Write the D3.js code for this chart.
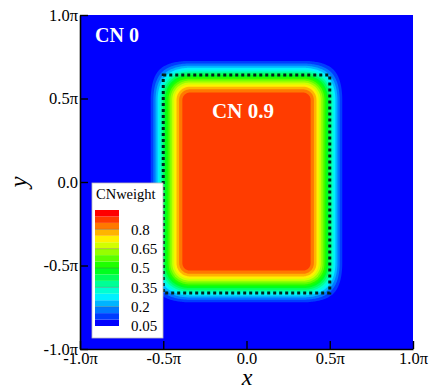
<!DOCTYPE html>
<html>
<head>
<meta charset="utf-8">
<script src="https://cdn.jsdelivr.net/npm/d3@7"></script>
<style>
  html, body { margin: 0; padding: 0; background: #fff; }
  svg { display: block; }
  text { font-family: "Liberation Serif", "Times New Roman", serif; }
</style>
</head>
<body>
<svg id="chart" width="438" height="391"></svg>
<script>
// Axis ticks (in units of pi) and their labels
const xTicks = [-1, -0.5, 0, 0.5, 1];
const yTicks = [-1, -0.5, 0, 0.5, 1];
const xTickLabels = ["-1.0\u03c0", "-0.5\u03c0", "0.0", "0.5\u03c0", "1.0\u03c0"];
const yTickLabels = ["-1.0\u03c0", "-0.5\u03c0", "0.0", "0.5\u03c0", "1.0\u03c0"];

// Contour levels of the CN weight field and the labelled legend levels
const levels = [0.05, 0.10, 0.15, 0.20, 0.25, 0.30, 0.35, 0.40, 0.45,
                0.50, 0.55, 0.60, 0.65, 0.70, 0.75, 0.80, 0.85, 0.90, 0.95];
const legendLabels = [0.05, 0.2, 0.35, 0.5, 0.65, 0.8];

// CN weight outside and inside the refined block
const cnOuter = [0];
const cnInner = [0.9];

// Block where the weight ramps up (pi units), and the ramp half-width
const coreX = [-0.49, 0.49];
const coreY = [-0.635, 0.64];
const rampHalf = [0.15];

// Dotted block outline (pi units)
const boxX = [-0.5, 0.5];
const boxY = [-0.665, 0.64];

const svg = d3.select("#chart");
const x = d3.scaleLinear().domain([-1, 1]).range([80, 413]);
const y = d3.scaleLinear().domain([-1, 1]).range([349, 15]);

// Rainbow colour for each band between consecutive levels
const nBands = levels.length - 1;
const rainbow = d3.scaleLinear()
  .domain([0, 0.25, 0.5, 0.75, 1])
  .range(["#0000ff", "#00ffff", "#00ff00", "#ffff00", "#ff0000"])
  .interpolate(d3.interpolateRgb);
const bandColor = i => rainbow(i / (nBands - 1));

// Sample the weight field on a regular grid
const nx = 300, ny = 300;
function ramp(d) {
  const h = rampHalf[0];
  if (d <= -h) return 0;
  if (d >= h) return 1;
  return 0.5 * (1 + Math.sin(Math.PI / 2 * d / h));
}
const values = new Float64Array(nx * ny);
for (let j = 0; j < ny; j++) {
  const yy = 1 - (j + 0.5) * 2 / ny;
  const gy = ramp(Math.min(yy - coreY[0], coreY[1] - yy));
  for (let i = 0; i < nx; i++) {
    const xx = -1 + (i + 0.5) * 2 / nx;
    const gx = ramp(Math.min(xx - coreX[0], coreX[1] - xx));
    values[j * nx + i] = cnOuter[0] + (cnInner[0] - cnOuter[0]) * gx * gy;
  }
}

// Band i covers (levels[i], levels[i+1]]
const thresholds = levels.slice(0, nBands).map(l => l + 1e-6);
const contours = d3.contours().size([nx, ny]).thresholds(thresholds)(values);

const gridToPixel = d3.geoTransform({
  point(px, py) {
    this.stream.point(x(-1 + px * 2 / nx), y(1 - py * 2 / ny));
  }
});
const path = d3.geoPath(gridToPixel);

svg.append("clipPath").attr("id", "plotClip")
  .append("rect")
  .attr("x", x(-1)).attr("y", y(1))
  .attr("width", x(1) - x(-1)).attr("height", y(-1) - y(1));

const plot = svg.append("g").attr("clip-path", "url(#plotClip)");
plot.append("rect")
  .attr("x", x(-1)).attr("y", y(1))
  .attr("width", x(1) - x(-1)).attr("height", y(-1) - y(1))
  .attr("fill", bandColor(0));

plot.selectAll("path.band")
  .data(contours)
  .join("path")
  .attr("class", "band")
  .attr("d", path)
  .attr("fill", (d, i) => bandColor(i));

// Dotted outline of the block
plot.append("rect")
  .attr("x", x(boxX[0])).attr("y", y(boxY[1]))
  .attr("width", x(boxX[1]) - x(boxX[0]))
  .attr("height", y(boxY[0]) - y(boxY[1]))
  .attr("fill", "none")
  .attr("stroke", "#04201a")
  .attr("stroke-width", 3)
  .attr("stroke-dasharray", "3,3");

// Region labels
svg.append("text")
  .attr("x", 95).attr("y", 42)
  .attr("fill", "#fff").attr("font-weight", "bold").attr("font-size", 20)
  .text("CN " + cnOuter[0]);
svg.append("text")
  .attr("x", 243).attr("y", 118).attr("text-anchor", "middle")
  .attr("fill", "#fff").attr("font-weight", "bold").attr("font-size", 21)
  .text("CN " + cnInner[0]);

// Axes with inward ticks
const xAxis = d3.axisBottom(x).tickValues(xTicks)
  .tickFormat((d, i) => xTickLabels[i])
  .tickSizeInner(-8).tickSizeOuter(0).tickPadding(3);
const yAxis = d3.axisLeft(y).tickValues(yTicks)
  .tickFormat((d, i) => yTickLabels[i])
  .tickSizeInner(-8).tickSizeOuter(0).tickPadding(2);

const gx = svg.append("g").attr("transform", `translate(0,${y(-1)})`).call(xAxis);
const gy = svg.append("g").attr("transform", `translate(${x(-1)},0)`).call(yAxis);
[gx, gy].forEach(g => {
  g.selectAll("path.domain").attr("stroke", "#000").attr("stroke-width", 1.6);
  g.selectAll(".tick line").attr("stroke", "#000").attr("stroke-width", 1.4);
  g.selectAll(".tick text")
    .attr("fill", "#000")
    .style("font-family", '"Liberation Serif", "Times New Roman", serif')
    .style("font-size", "16.5px");
});

// Axis titles
svg.append("text")
  .attr("x", 247).attr("y", 385).attr("text-anchor", "middle")
  .attr("font-style", "italic").attr("font-size", 24)
  .text("x");
svg.append("text")
  .attr("transform", "translate(27,182) rotate(-90)")
  .attr("text-anchor", "middle")
  .attr("font-style", "italic").attr("font-size", 25)
  .text("y");

// Colour legend
const legend = svg.append("g");
legend.append("rect")
  .attr("x", 92).attr("y", 183).attr("width", 71).attr("height", 155)
  .attr("fill", "#fff").attr("stroke", "#bbb").attr("stroke-width", 0.8);
legend.append("text")
  .attr("x", 96).attr("y", 199)
  .attr("font-size", 14.5)
  .text("CNweight");

const cb = d3.scaleLinear().domain([levels[0], levels[levels.length - 1]]).range([326, 210]);
legend.selectAll("rect.cb")
  .data(d3.range(nBands))
  .join("rect")
  .attr("class", "cb")
  .attr("x", 95).attr("width", 24)
  .attr("y", i => cb(levels[i + 1]))
  .attr("height", i => cb(levels[i]) - cb(levels[i + 1]))
  .attr("fill", i => bandColor(i));
legend.selectAll("line.cbl")
  .data(legendLabels.slice(1))
  .join("line")
  .attr("class", "cbl")
  .attr("x1", 95).attr("x2", 119)
  .attr("y1", d => cb(d)).attr("y2", d => cb(d))
  .attr("stroke", "#555").attr("stroke-width", 0.6).attr("stroke-opacity", 0.6);
legend.selectAll("text.cbt")
  .data(legendLabels)
  .join("text")
  .attr("class", "cbt")
  .attr("x", 131).attr("y", d => cb(d)).attr("dy", "0.35em")
  .attr("font-size", 15)
  .text(d => String(d));
</script>
</body>
</html>
